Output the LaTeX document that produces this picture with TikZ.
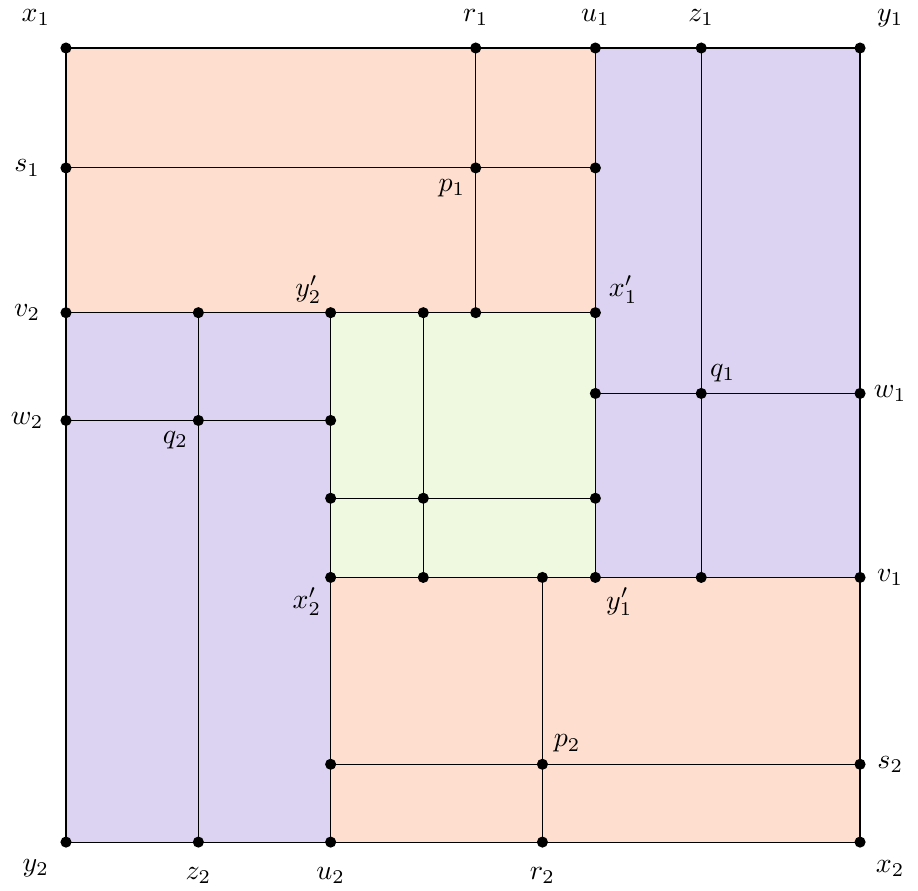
\documentclass[tikz,border=0pt]{standalone}
\usepackage{amsmath}
\usepackage{xcolor}
\definecolor{blockpeach}{HTML}{FEDFCF}
\definecolor{blocklilac}{HTML}{DCD3F3}
\definecolor{blockgreen}{HTML}{EEF9DF}

\begin{document}
\begin{tikzpicture}[
  every node/.style={font=\normalsize},
  dot/.style={circle, fill=black, inner sep=0pt, minimum size=0.14cm},
  edge/.style={black, line width=0.4pt},
  peach/.style={fill=blockpeach, draw=black, line width=0.4pt},
  lilac/.style={fill=blocklilac, draw=black, line width=0.4pt},
  green/.style={fill=blockgreen, draw=black, line width=0.4pt},
  tag/.style={inner sep=0pt}
]
  % ---- frame of the page ------------------------------------------------
  \useasboundingbox (-0.831,-0.605) rectangle (10.730,10.605);

  % ---- corners and grid points -----------------------------------------
  \path
    (0,10)        coordinate (x1)
    (5.16,10)     coordinate (r1)
    (6.667,10)    coordinate (u1)
    (8,10)        coordinate (z1)
    (10,10)       coordinate (y1)
    (0,8.49)      coordinate (s1)
    (5.16,8.49)   coordinate (p1)
    (6.667,8.49)  coordinate (s1e)
    (0,6.667)     coordinate (v2)
    (1.667,6.667) coordinate (z2t)
    (3.333,6.667) coordinate (y2p)
    (4.5,6.667)   coordinate (gt)
    (5.16,6.667)  coordinate (r1b)
    (6.667,6.667) coordinate (x1p)
    (0,5.31)      coordinate (w2)
    (1.667,5.31)  coordinate (q2)
    (3.333,5.31)  coordinate (w2e)
    (6.667,5.65)  coordinate (w1w)
    (8,5.65)      coordinate (q1)
    (10,5.65)     coordinate (w1)
    (3.333,4.33)  coordinate (gl)
    (4.5,4.33)    coordinate (gm)
    (6.667,4.33)  coordinate (gr)
    (3.333,3.333) coordinate (x2p)
    (4.5,3.333)   coordinate (gb)
    (6,3.333)     coordinate (r2t)
    (6.667,3.333) coordinate (y1p)
    (8,3.333)     coordinate (z1b)
    (10,3.333)    coordinate (v1)
    (3.333,0.98)  coordinate (s2w)
    (6,0.98)      coordinate (p2)
    (10,0.98)     coordinate (s2)
    (0,0)         coordinate (y2)
    (1.667,0)     coordinate (z2)
    (3.333,0)     coordinate (u2)
    (6,0)         coordinate (r2)
    (10,0)        coordinate (x2);

  % ---- the five blocks -------------------------------------------------
  \filldraw[peach] (x1) rectangle (x1p);
  \filldraw[lilac] (u1) rectangle (v1);
  \filldraw[peach] (x2p) rectangle (x2);
  \filldraw[lilac] (v2) rectangle (u2);
  \filldraw[green] (y2p) rectangle (y1p);

  % ---- cuts inside the blocks ------------------------------------------
  \draw[edge] (s1) -- (s1e);
  \draw[edge] (r1) -- (r1b);
  \draw[edge] (z1) -- (z1b);
  \draw[edge] (w1w) -- (w1);
  \draw[edge] (z2t) -- (z2);
  \draw[edge] (w2) -- (w2e);
  \draw[edge] (r2t) -- (r2);
  \draw[edge] (s2w) -- (s2);
  \draw[edge] (gt) -- (gb);
  \draw[edge] (gl) -- (gr);

  % ---- dots --------------------------------------------------------------
  \foreach \p in {x1,r1,u1,z1,y1,s1,p1,s1e,v2,z2t,y2p,gt,r1b,x1p,
                  w2,q2,w2e,w1w,q1,w1,gl,gm,gr,x2p,gb,r2t,y1p,z1b,v1,
                  s2w,p2,s2,y2,z2,u2,r2,x2}
    \node[dot] (d-\p) at (\p) {};

  % ---- labels ------------------------------------------------------------
  \node[tag] (l-x1)  at ([shift={(-0.38,0.38)}]d-x1.center)  {$x_1$};
  \node[tag] (l-r1)  at ([yshift=0.38cm]d-r1.center)         {$r_1$};
  \node[tag] (l-u1)  at ([yshift=0.38cm]d-u1.center)         {$u_1$};
  \node[tag] (l-z1)  at ([yshift=0.38cm]d-z1.center)         {$z_1$};
  \node[tag] (l-y1)  at ([shift={(0.38,0.38)}]d-y1.center)   {$y_1$};
  \node[tag] (l-s1)  at ([xshift=-0.49cm]d-s1.center)        {$s_1$};
  \node[tag] (l-p1)  at ([shift={(-0.30,-0.25)}]d-p1.center) {$p_1$};
  \node[tag] (l-x1p) at ([shift={(0.35,0.29)}]d-x1p.center)  {$x_1'$};
  \node[tag] (l-v2)  at ([xshift=-0.49cm]d-v2.center)        {$v_2$};
  \node[tag] (l-y2p) at ([shift={(-0.28,0.29)}]d-y2p.center) {$y_2'$};
  \node[tag] (l-w2)  at ([xshift=-0.49cm]d-w2.center)        {$w_2$};
  \node[tag] (l-q2)  at ([shift={(-0.29,-0.25)}]d-q2.center) {$q_2$};
  \node[tag] (l-q1)  at ([shift={(0.27,0.26)}]d-q1.center)   {$q_1$};
  \node[tag] (l-w1)  at ([xshift=0.38cm]d-w1.center)         {$w_1$};
  \node[tag] (l-x2p) at ([shift={(-0.30,-0.30)}]d-x2p.center) {$x_2'$};
  \node[tag] (l-y1p) at ([shift={(0.30,-0.31)}]d-y1p.center) {$y_1'$};
  \node[tag] (l-v1)  at ([xshift=0.38cm]d-v1.center)         {$v_1$};
  \node[tag] (l-p2)  at ([shift={(0.31,0.26)}]d-p2.center)   {$p_2$};
  \node[tag] (l-s2)  at ([xshift=0.38cm]d-s2.center)         {$s_2$};
  \node[tag] (l-y2)  at ([shift={(-0.38,-0.33)}]d-y2.center) {$y_2$};
  \node[tag] (l-z2)  at ([yshift=-0.42cm]d-z2.center)        {$z_2$};
  \node[tag] (l-u2)  at ([yshift=-0.42cm]d-u2.center)        {$u_2$};
  \node[tag] (l-r2)  at ([yshift=-0.42cm]d-r2.center)        {$r_2$};
  \node[tag] (l-x2)  at ([shift={(0.38,-0.33)}]d-x2.center)  {$x_2$};
\end{tikzpicture}
\end{document}
